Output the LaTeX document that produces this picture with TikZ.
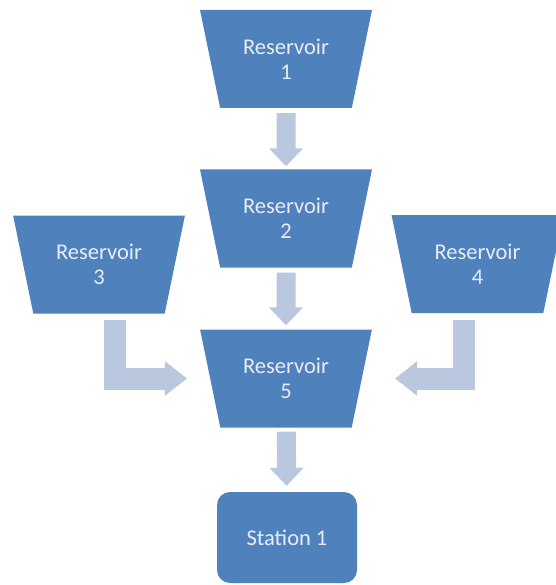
\documentclass[tikz,border=0pt]{standalone}
\usepackage{fontspec}
\setmainfont{Carlito}
\usetikzlibrary{shapes.geometric,arrows.meta}

\definecolor{resblue}{HTML}{4F81BD}
\definecolor{flowgrey}{HTML}{B9C7DF}
\definecolor{labelwhite}{HTML}{E9EDF3}

\begin{document}
\begin{tikzpicture}[x=1pt,y=-1pt,
  reservoir/.style={trapezium, trapezium stretches=true, shape border rotate=180,
    trapezium angle=72, minimum width=172pt, minimum height=98pt, inner sep=0pt,
    fill=resblue, text=labelwhite, align=center, font=\fontsize{22.5}{25}\selectfont},
  station/.style={rectangle, rounded corners=13pt, minimum width=140pt,
    minimum height=91pt, inner sep=0pt, fill=resblue, text=labelwhite,
    font=\fontsize{22.5}{25}\selectfont},
  flow/.style={draw=flowgrey, line width=19pt, line join=miter,
    -{Triangle[width=33pt,length=18pt]}},
  bentflow/.style={draw=flowgrey, line width=22pt, line join=miter,
    -{Triangle[width=33pt,length=22pt]}}
]
\useasboundingbox (0,0) rectangle (555,585);

% reservoirs and the station
\node[reservoir] (r1) at (286,59)    {Reservoir\\1};
\node[reservoir] (r2) at (286,218.5) {Reservoir\\2};
\node[reservoir] (r3) at (99,264.5)  {Reservoir\\3};
\node[reservoir] (r4) at (477.5,264) {Reservoir\\4};
\node[reservoir] (r5) at (286,378.5) {Reservoir\\5};
\node[station]   (st) at (287,537.5) {Station 1};

% straight flows down the middle column
\draw[flow, shorten <=5pt, shorten >=3pt] (r1) -- (r2);
\draw[flow, shorten <=5pt, shorten >=4pt] (r2) -- (r5);
\draw[flow, shorten <=4pt, shorten >=6pt] (r5) -- (st);

% bent flows from the side reservoirs
\coordinate (s3) at ([xshift=15.5pt,yshift=-55.5pt]r3.center);
\coordinate (s4) at ([xshift=-13.5pt,yshift=-55.5pt]r4.center);
\draw[bentflow, shorten >=23pt] (s3) |- (r5);
\draw[bentflow, shorten >=33pt] (s4) |- (r5);
\end{tikzpicture}
\end{document}
